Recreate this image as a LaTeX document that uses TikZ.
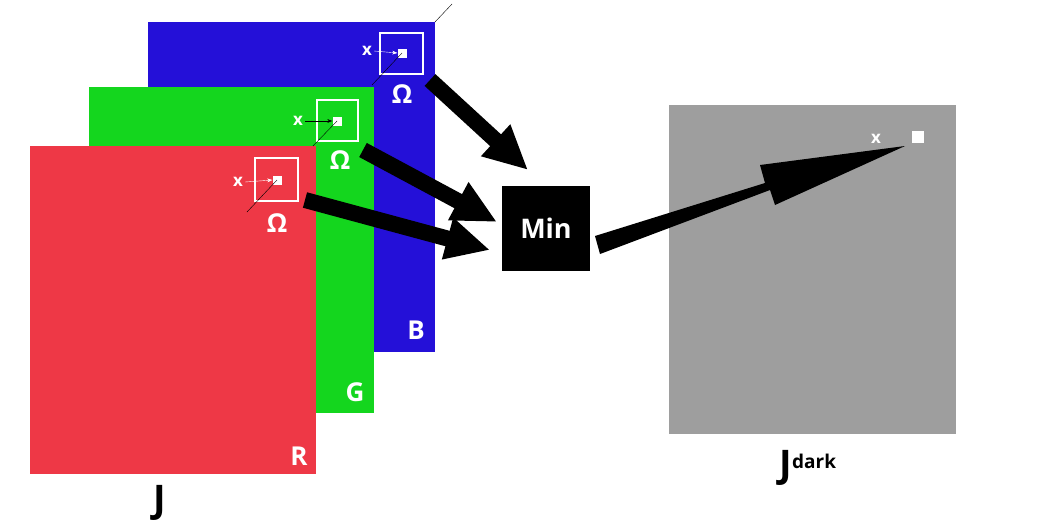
\documentclass[tikz,border=0pt]{standalone}
\usepackage{fontspec}
\setmainfont{Open Sans}
\usetikzlibrary{arrows.meta}
\definecolor{cb}{RGB}{36,16,216}
\definecolor{cg}{RGB}{20,214,30}
\definecolor{cr}{RGB}{238,56,70}
\definecolor{cgray}{RGB}{158,158,158}
\begin{document}
\begin{tikzpicture}[x=1pt,y=-1pt,
 lab/.style={text=white,font=\bfseries\fontsize{26}{26}\selectfont,inner sep=0},
 xl/.style={text=white,font=\bfseries\fontsize{17}{17}\selectfont,inner sep=0},
 win/.style={draw=white,line width=1.5pt},
 px/.style={fill=white,draw=none,minimum size=9pt,inner sep=0},
 big/.style={line width=16pt,-{Triangle[length=44pt,width=40pt]}},
 sm/.style={-{Stealth[length=5pt]},thin}]
\useasboundingbox (0,0) rectangle (1046,528);
\fill[white] (0,0) rectangle (1046,528);
\fill[cb] (148,22) rectangle (435,352);
\fill[cg] (89,87) rectangle (374,413);
\fill[cr] (30,146) rectangle (316,474);
\fill[cgray] (669,105) rectangle (956,434);
% blue window
\draw[win] (380,33) rectangle (423,74);
\node[px] (pb) at (402,53) {};
\node[xl] (xb) at (367,51) {x};
\draw[sm,white] (xb.east) ++(2,0) -- (pb.west);
\draw[thin] (372,85) -- (pb.center);
\draw[thin] (435,22) -- (452,4);
\node[lab] at (402,94) {Ω};
% green window
\draw[win] (317,100) rectangle (358,141);
\node[px] (pg) at (337,121) {};
\node[xl] (xg) at (298,121) {x};
\draw[sm,black] (xg.east) ++(2,0) -- (pg.west);
\draw[thin] (313,146) -- (pg.center);
\node[lab] at (340,160) {Ω};
% red window
\draw[win] (255,158) rectangle (298,201);
\node[px] (pr) at (277,180) {};
\node[xl] (xr) at (238,182) {x};
\draw[sm,white] (xr.east) ++(2,0) -- (pr.west);
\draw[thin] (247,212) -- (pr.center);
\node[lab] at (277,223) {Ω};
% channel labels
\node[lab] at (416,330) {B};
\node[lab] at (355,392) {G};
\node[lab] at (299,456) {R};
\node[text=black,font=\bfseries\fontsize{38}{38}\selectfont] at (160,503) {J};
\node[text=black,font=\bfseries\fontsize{38}{38}\selectfont,anchor=west] at (776,468) {J\raisebox{9pt}{\fontsize{19}{19}\selectfont dark}};
% min
\node[fill=black,minimum width=88pt,minimum height=85pt,text=white,font=\bfseries\fontsize{27}{27}\selectfont] (min) at (546,228) {Min};
\draw[big] (430,80) -- (528,170);
\draw[big] (363,150) -- (497,222);
\draw[big] (305,200) -- (490,250);
% output
\node[px,minimum size=12pt] (po) at (918,137) {};
\node[xl] at (876,139) {x};
\fill[black] (595,236) -- (765,183) -- (760,165) -- (905,146) -- (775,205) -- (770,190) -- (600,254) -- cycle;
\end{tikzpicture}
\end{document}
